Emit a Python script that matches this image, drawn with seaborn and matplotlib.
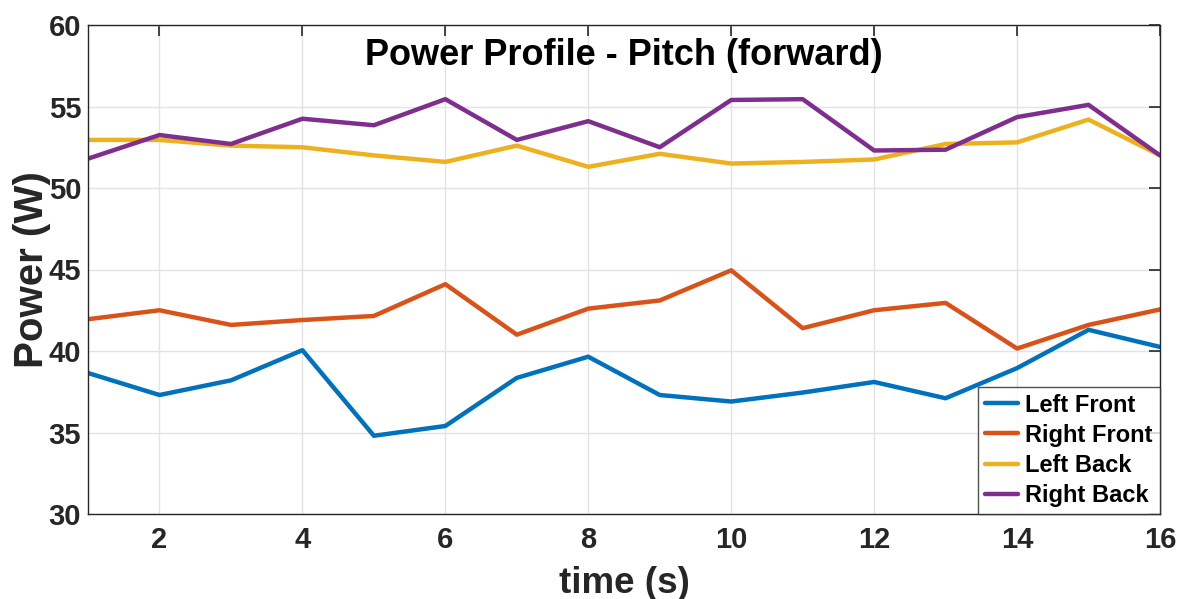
import numpy as np
import pandas as pd
import matplotlib
matplotlib.use("Agg")
import matplotlib.pyplot as plt
import seaborn as sns

time = list(range(1, 17))
left_front = [38.65, 37.3, 38.2, 40.05, 34.8, 35.4, 38.35, 39.65, 37.3, 36.9, 37.45, 38.1, 37.1, 38.95, 41.3, 40.25]
right_front = [41.95, 42.5, 41.6, 41.9, 42.15, 44.1, 41.0, 42.6, 43.1, 44.95, 41.4, 42.5, 42.95, 40.15, 41.6, 42.55]
left_back = [52.95, 52.95, 52.6, 52.5, 52.0, 51.6, 52.6, 51.3, 52.1, 51.5, 51.6, 51.75, 52.7, 52.8, 54.2, 52.0]
right_back = [51.8, 53.25, 52.7, 54.25, 53.85, 55.45, 52.95, 54.1, 52.5, 55.4, 55.45, 52.3, 52.35, 54.35, 55.1, 52.0]

series_names = ["Left Front", "Right Front", "Left Back", "Right Back"]
colors = ["#0072BD", "#D95319", "#EDB120", "#7E2F8E"]

df = pd.concat([
    pd.DataFrame({"time": time, "power": vals, "series": name})
    for name, vals in zip(series_names, [left_front, right_front, left_back, right_back])
])

sns.set_style("white")
plt.rcParams['font.family'] = ['Liberation Sans', 'DejaVu Sans']
plt.rcParams['font.weight'] = 'bold'

fig = plt.figure(figsize=(11.79, 5.99), dpi=100)
ax = fig.add_axes([88/1179, 1 - 514/599, (1160-88)/1179, (514-25)/599])

sns.lineplot(data=df, x="time", y="power", hue="series", palette=colors,
             hue_order=series_names, linewidth=3.2, ax=ax, legend=True)

ax.set_xlim(1, 16)
ax.set_ylim(30, 60)
ax.set_xticks([2, 4, 6, 8, 10, 12, 14, 16])
ax.set_yticks([30, 35, 40, 45, 50, 55, 60])
ax.grid(True, color="#e3e3e3", linewidth=1)
ax.set_axisbelow(True)
ax.tick_params(direction="in", length=8, width=1.2, top=True, right=True,
               labelsize=21, colors="#262626")
ax.tick_params(axis="y", pad=5)
ax.tick_params(axis="x", pad=9)
for lbl in ax.get_xticklabels() + ax.get_yticklabels():
    lbl.set_fontweight("bold")
for s in ax.spines.values():
    s.set_color("#262626")
    s.set_linewidth(1.0)

ax.set_xlabel("time (s)", fontsize=26.5, fontweight="bold", color="#262626", labelpad=8)
ax.set_ylabel("Power (W)", fontsize=29, fontweight="bold", color="#262626", labelpad=-2)
ax.set_title("Power Profile - Pitch (forward)", fontsize=26, fontweight="bold",
             color="black", y=0.92, va="center")

leg = ax.legend(loc="lower right", fontsize=17, frameon=True, fancybox=False,
                borderaxespad=0.0, handlelength=1.4, handletextpad=0.3,
                labelspacing=0.3, borderpad=0.3)
leg.get_frame().set_edgecolor("#262626")
leg.get_frame().set_linewidth(1.0)
for t in leg.get_texts():
    t.set_fontweight("bold")
    t.set_color("black")
for l in leg.get_lines():
    l.set_linewidth(3.2)

fig.savefig("out.png", dpi=100)
